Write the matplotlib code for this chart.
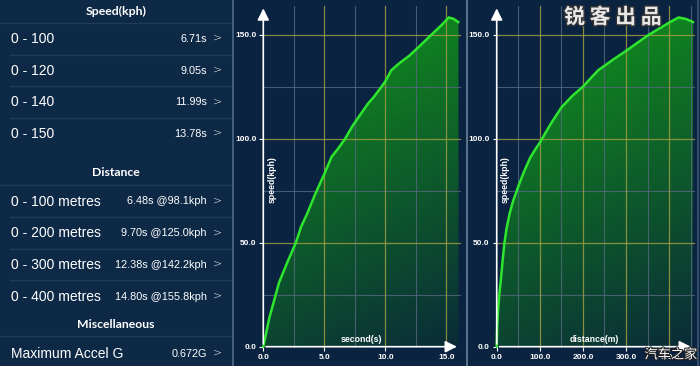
import numpy as np
import matplotlib
matplotlib.use("Agg")
import matplotlib.pyplot as plt
from matplotlib.patches import Polygon
import matplotlib.patheffects as pe

# ---- data ----
speed_rows = ["0 - 100", "0 - 120", "0 - 140", "0 - 150"]
speed_vals = ["6.71s", "9.05s", "11.99s", "13.78s"]
dist_rows = ["0 - 100 metres", "0 - 200 metres", "0 - 300 metres", "0 - 400 metres"]
dist_vals = ["6.48s @98.1kph", "9.70s @125.0kph", "12.38s @142.2kph", "14.80s @155.8kph"]
misc_rows = ["Maximum Accel G"]
misc_vals = ["0.672G"]

t_sec = [0, 0.5, 1.3, 2.0, 2.67, 3.1, 3.6, 4.3, 5.0, 5.6, 6.1, 6.71, 7.3, 8.0, 8.6,
         9.05, 9.5, 10.0, 10.5, 11.2, 11.99, 12.9, 13.78, 14.5, 14.8, 15.2, 15.6, 16.0]
v_time = [0, 14, 31, 41, 50, 57.7, 64, 74, 83, 91.3, 95, 100, 106, 112, 117,
          120, 123.5, 127.5, 133, 136.5, 140, 145, 150, 154, 155.8, 158.3, 157.6, 156]

d_m = [0, 1, 3, 6, 10, 14, 18, 23, 30, 38, 50, 63, 78, 90, 100, 125, 150, 175, 200,
       220, 236, 270, 300, 350, 400, 422, 440, 456]
v_dist = [0, 9, 17, 25, 33, 42, 50, 57, 64, 70, 77, 84, 91, 95, 98.1, 107, 115, 120.5,
          125, 129.5, 133, 138, 142.2, 149.6, 155.8, 158.3, 157.5, 156]

left_bg = "#0e2946"
chart_bg = "#0a2341"
sep_col = "#1e3b5a"

fig = plt.figure(figsize=(7, 3.66), dpi=100)
fig.patch.set_facecolor(left_bg)

# ---- left table panel (pixel coords) ----
ax0 = fig.add_axes([0, 0, 232 / 700, 1])
ax0.set_xlim(0, 232)
ax0.set_ylim(366, 0)
ax0.axis("off")

def section(title, ty, rows, vals, y0, seps):
    ax0.text(116, ty, title, ha="center", va="center", color="white",
             fontsize=8.8, fontweight="bold", family="Lato")
    ax0.plot([0, 232], [ty + 11.5, ty + 11.5], color=sep_col, lw=1)
    for i, (r, v) in enumerate(zip(rows, vals)):
        y = y0 + i * 31.7
        ax0.text(11, y, r, ha="left", va="center", color="white",
                 fontsize=10, family="Liberation Sans")
        ax0.text(207, y, v, ha="right", va="center", color="white",
                 fontsize=7.8, family="Liberation Sans")
        ax0.text(218, y - 1, ">", ha="center", va="center", color="white",
                 fontsize=8, family="DejaVu Sans", fontweight="light")
        if i < seps:
            ax0.plot([10, 232], [y + 15.5, y + 15.5], color=sep_col, lw=1)

section("Speed(kph)", 11, speed_rows, speed_vals, 39, 3)
section("Distance", 173, dist_rows, dist_vals, 201.5, 3)
section("Miscellaneous", 324, misc_rows, misc_vals, 354, 0)

# dividers
for xp, c in [(232.5, "#4d6a88"), (466.5, "#6f8298"), (698, "#3d5876")]:
    fig.add_artist(plt.Line2D([xp / 700, xp / 700], [0, 1], color=c, lw=1.2))


def gradient_fill(ax, xs, ys, xmax):
    ny, nx = 200, 60
    yy = np.linspace(0, 1, ny)[:, None]
    xx = np.linspace(0, 1, nx)[None, :]
    val = np.clip(0.78 * yy + 0.22 * (1 - xx), 0, 1)
    dark = np.array([0.04, 0.17, 0.22])
    bright = np.array([0.07, 0.60, 0.10])
    img = dark + (bright - dark) * val[..., None]
    im = ax.imshow(img, extent=[0, xmax, 0, 160], origin="lower", aspect="auto",
                   interpolation="bilinear", zorder=1)
    poly = Polygon(list(zip(xs, ys)) + [(xs[-1], 0), (xs[0], 0)], closed=True,
                   facecolor="none", edgecolor="none", transform=ax.transData)
    ax.add_patch(poly)
    im.set_clip_path(poly)


def chart(rect, xs, ys, x0px, pxu, xmaj, xmin_, xend, xlabel, xlab_px, ylab_px):
    ax = fig.add_axes(rect)
    ax.set_facecolor(chart_bg)
    left_px = rect[0] * 700
    right_px = (rect[0] + rect[2]) * 700
    ax.set_xlim((left_px - x0px) / pxu, (right_px - x0px) / pxu)
    ypu = 2.08
    ax.set_ylim(-(366 - 346.7) / ypu, 346.7 / ypu)
    ytop = 164
    # grid
    for g in xmin_:
        ax.plot([g, g], [0, ytop], color="#56697f", lw=0.8, zorder=3, alpha=0.8)
    for g in [25, 75, 125]:
        ax.plot([0, xend], [g, g], color="#56697f", lw=0.8, zorder=3, alpha=0.8)
    for g in xmaj[1:]:
        ax.plot([g, g], [0, ytop], color="#9c9c42", lw=0.9, zorder=3, alpha=0.85)
    for g in [50, 100, 150]:
        ax.plot([0, xend], [g, g], color="#9c9c42", lw=0.9, zorder=3, alpha=0.85)
    gradient_fill(ax, xs, ys, xs[-1])
    ax.plot(xs, ys, color="#2ee62e", lw=1.8, zorder=4, solid_capstyle="round",
            solid_joinstyle="round")
    # axes lines with arrows
    ax.annotate("", xy=(0, 164), xytext=(0, 0),
                arrowprops=dict(arrowstyle="-|>,head_length=0.7,head_width=0.35",
                                color="white", lw=1.2), zorder=5)
    ax.annotate("", xy=(xend, 0), xytext=(0, 0),
                arrowprops=dict(arrowstyle="-|>,head_length=0.7,head_width=0.35",
                                color="white", lw=1.2), zorder=5)
    for s in ax.spines.values():
        s.set_visible(False)
    ax.set_xticks(xmaj)
    ax.set_xticklabels([f"{v:.1f}" for v in xmaj])
    ax.set_yticks([0, 50, 100, 150])
    ax.set_yticklabels(["0.0", "50.0", "100.0", "150.0"])
    ax.spines["left"].set_position(("data", 0))
    ax.spines["bottom"].set_position(("data", 0))
    ax.tick_params(colors="white", labelsize=6, length=3, width=0.8, pad=2)
    for lab in ax.get_xticklabels() + ax.get_yticklabels():
        lab.set_fontweight("bold")
        lab.set_family("Liberation Sans")
    ax.text((xlab_px - x0px) / pxu, (346.7 - 340) / ypu, xlabel, ha="center",
            va="center", color="white", fontsize=6.3, fontweight="bold",
            family="Liberation Sans", zorder=6)
    ax.text((ylab_px - x0px) / pxu, (346.7 - 180) / ypu, "speed(kph)", ha="center",
            va="center", rotation=90, color="white", fontsize=6.3,
            fontweight="bold", family="Liberation Sans", zorder=6)
    return ax


ax1 = chart([233 / 700, 0, 233 / 700, 1], t_sec, v_time, 263.3, 12.2,
            [0, 5, 10, 15], [2.5, 7.5, 12.5], 16.1, "second(s)", 361, 271.7)
ax2 = chart([467 / 700, 0, 233 / 700, 1], d_m, v_dist, 496.7, 0.431,
            [0, 100, 200, 300, 400], [50, 150, 250, 350, 450], 457, "distance(m)",
            594, 505)

# watermarks
fig.text(613 / 700, 1 - 17 / 366, "锐 客 出 品", ha="center", va="center",
         fontsize=15, color="#e8e8e8", family="Noto Sans CJK SC", fontweight="bold",
         path_effects=[pe.withStroke(linewidth=2, foreground="#333333")], zorder=10)
fig.text(671 / 700, 1 - 355 / 366, "汽车之家", ha="center", va="center",
         fontsize=9.5, color="white", family="Noto Sans CJK SC",
         path_effects=[pe.withStroke(linewidth=1.5, foreground="#222222")], zorder=10)

fig.savefig("out.png", dpi=100, facecolor=fig.get_facecolor())
